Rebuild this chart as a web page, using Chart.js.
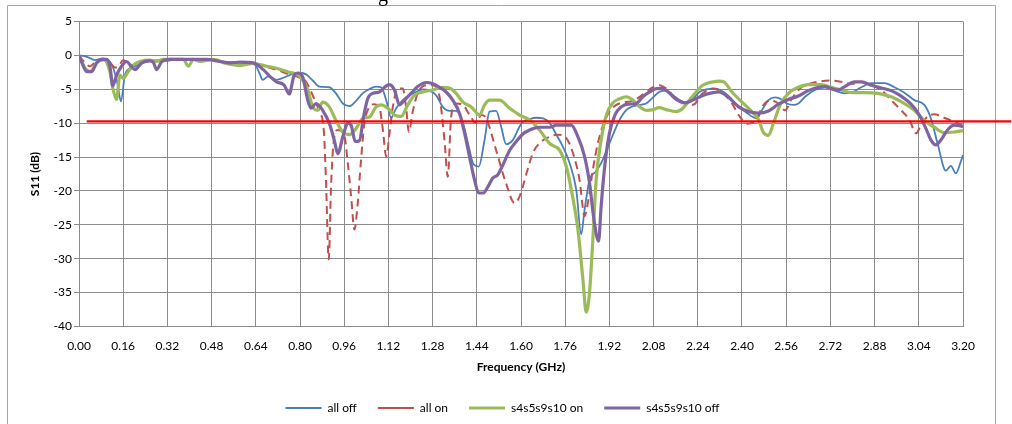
<!DOCTYPE html>
<html>
<head>
<meta charset="utf-8">
<script src="https://cdn.jsdelivr.net/npm/chart.js@4.4.1/dist/chart.umd.min.js"></script>
<style>
  html, body { margin: 0; padding: 0; background: #fff; }
  #wrap { position: relative; width: 1012px; height: 424px; overflow: hidden; }
  #cut { position: absolute; left: 378px; top: -17px; font: 20px "Liberation Serif"; color: #000; }
</style>
</head>
<body>
<div id="wrap">
  <canvas id="s11" width="1012" height="424"></canvas>
  <div id="cut">g</div>
</div>
<script>
const xTicks = [0.00, 0.16, 0.32, 0.48, 0.64, 0.80, 0.96, 1.12, 1.28, 1.44, 1.60,
  1.76, 1.92, 2.08, 2.24, 2.40, 2.56, 2.72, 2.88, 3.04, 3.20];
const yTicks = [5, 0, -5, -10, -15, -20, -25, -30, -35, -40];

// all off
const allOffFreq = [0, 0.022, 0.04, 0.058, 0.082, 0.106, 0.124, 0.139, 0.152, 0.166, 0.185, 0.215, 0.245,
  0.293, 0.34, 0.40, 0.46, 0.534, 0.607, 0.637, 0.653, 0.665, 0.685, 0.715, 0.74, 0.776, 0.80, 0.822,
  0.846, 0.87, 0.906, 0.93, 0.955, 0.979, 1.003, 1.027, 1.05, 1.075, 1.094, 1.112, 1.13, 1.148, 1.172,
  1.196, 1.22, 1.245, 1.269, 1.293, 1.317, 1.341, 1.365, 1.39, 1.414, 1.426, 1.447, 1.468, 1.486, 1.51,
  1.528, 1.546, 1.57, 1.595, 1.607, 1.631, 1.655, 1.68, 1.704, 1.728, 1.752, 1.776, 1.8, 1.818, 1.83,
  1.848, 1.872, 1.89, 1.91, 1.933, 1.957, 1.98, 2.005, 2.03, 2.053, 2.078, 2.1, 2.126, 2.15, 2.174,
  2.198, 2.222, 2.246, 2.27, 2.304, 2.34, 2.376, 2.412, 2.454, 2.472, 2.496, 2.52, 2.544, 2.562, 2.586,
  2.604, 2.628, 2.664, 2.7, 2.736, 2.772, 2.802, 2.832, 2.868, 2.916, 2.952, 2.988, 3.024, 3.06, 3.084,
  3.108, 3.138, 3.156, 3.174, 3.192, 3.2];
const allOffDb = [0, -0.15, -0.4, -0.7, -0.5, -0.7, -1.9, -4.1, -6.8, -2.9, -1.9, -1.4, -0.9,
  -0.7, -0.6, -0.6, -0.6, -1.0, -1.1, -1.4, -2.6, -3.6, -3.1, -3.6, -3.3, -2.7, -2.6, -2.8,
  -3.7, -4.6, -4.7, -5.6, -7.1, -7.5, -6.7, -5.6, -5.0, -4.6, -4.7, -6.6, -9.2, -7.8, -6.6,
  -5.9, -5.4, -5.0, -5.2, -5.9, -7.6, -8.2, -8.2, -10, -14, -15.9, -16.4, -12.5, -8.3, -8.2,
  -10.5, -13.1, -12.5, -10.5, -9.8, -9.4, -9.2, -9.3, -10, -11.7, -13.5, -15.9, -19.8, -26.4, -22.8,
  -18.4, -17.1, -15.9, -14, -11.7, -9.5, -8.1, -7.5, -7.3, -7.1, -6.2, -5.4, -5.2, -5.9, -6.6,
  -7.0, -6.4, -5.4, -5.0, -4.9, -5.6, -7.1, -8.3, -9.3, -8.1, -6.6, -6.2, -6.5, -7.1, -7.3,
  -7.1, -6.1, -5.1, -4.7, -5.2, -5.6, -5.4, -4.7, -4.1, -4.1, -4.7, -5.5, -6.6, -7.3, -9.3,
  -13, -17, -16.3, -17.4, -15.7, -14.7];

// all on
const allOnFreq = [0, 0.02, 0.04, 0.06, 0.09, 0.11, 0.13, 0.145, 0.16, 0.18, 0.2, 0.22, 0.26, 0.3, 0.36,
  0.42, 0.48, 0.54, 0.6, 0.64, 0.68, 0.72, 0.76, 0.80, 0.822, 0.846, 0.87, 0.886, 0.894, 0.904, 0.912,
  0.92, 0.936, 0.96, 0.973, 0.985, 0.997, 1.009, 1.02, 1.033, 1.045, 1.07, 1.087, 1.1, 1.112, 1.124,
  1.136, 1.154, 1.172, 1.184, 1.194, 1.208, 1.226, 1.257, 1.281, 1.305, 1.323, 1.335, 1.347, 1.365,
  1.39, 1.414, 1.438, 1.456, 1.474, 1.51, 1.546, 1.577, 1.595, 1.62, 1.643, 1.674, 1.704, 1.733, 1.764,
  1.788, 1.812, 1.83, 1.842, 1.86, 1.878, 1.897, 1.92, 1.945, 1.975, 2.005, 2.03, 2.053, 2.078, 2.1,
  2.126, 2.15, 2.186, 2.222, 2.258, 2.295, 2.34, 2.364, 2.388, 2.418, 2.448, 2.478, 2.502, 2.532,
  2.556, 2.58, 2.616, 2.652, 2.688, 2.724, 2.76, 2.796, 2.832, 2.868, 2.904, 2.94, 2.976, 3.006, 3.03,
  3.048, 3.072, 3.096, 3.132, 3.168, 3.2];
const allOnDb = [0, -1.0, -1.6, -1.0, -0.7, -1.0, -1.8, -1.5, -0.7, -1.4, -2.0, -1.2, -0.8, -0.8, -0.6,
  -0.6, -0.7, -1.0, -1.2, -1.4, -1.7, -2.2, -2.8, -3.3, -3.9, -5.9, -8.3, -11, -18.4, -30.1, -19.8,
  -13.5, -11, -11.7, -15.9, -20.8, -25.7, -21.8, -15.9, -10, -8.1, -7.2, -7.6, -11, -14.9, -11.5,
  -7.6, -4.9, -4.9, -7.6, -11.3, -8.3, -5.6, -4.4, -4.4, -6.1, -12.5, -17.9, -9.1, -7.1,
  -7.3, -8.8, -10, -8.8, -9.3, -14, -18.9, -21.8, -20.8, -17.4, -14.4, -12.7, -12, -11.7, -12.2,
  -14.4, -18.4, -23.7, -21.8, -16.9, -13, -10.3, -8.3, -7.3, -6.9, -6.7, -6.1, -5.4, -4.7, -4.4,
  -4.9, -5.9, -6.9, -7.3, -5.6, -4.9, -5.9, -7.1, -8.8, -10.1, -9.6, -7.3, -6.6, -7.1,
  -8.1, -6.4, -4.7, -4.1, -3.8, -3.7, -3.9, -4.2, -3.9, -4.4, -5.1, -6.6, -8.1, -9.5, -11.5,
  -10.3, -9.0, -8.7, -9.2, -9.8, -10.4];

// s4s5s9s10 on
const switchOnFreq = [0, 0.022, 0.04, 0.064, 0.088, 0.112, 0.124, 0.136, 0.148, 0.16, 0.178, 0.197, 0.22,
  0.257, 0.28, 0.305, 0.341, 0.378, 0.396, 0.414, 0.438, 0.486, 0.534, 0.583, 0.631, 0.68, 0.715, 0.761,
  0.798, 0.828, 0.846, 0.864, 0.882, 0.906, 0.93, 0.955, 0.979, 1.003, 1.027, 1.051, 1.075, 1.094,
  1.118, 1.142, 1.166, 1.19, 1.214, 1.245, 1.281, 1.317, 1.341, 1.365, 1.39, 1.42, 1.45, 1.468, 1.486,
  1.522, 1.559, 1.595, 1.631, 1.667, 1.704, 1.74, 1.764, 1.782, 1.806, 1.824, 1.836, 1.848, 1.86,
  1.872, 1.89, 1.909, 1.933, 1.957, 1.981, 2.005, 2.03, 2.053, 2.078, 2.1, 2.126, 2.162, 2.186, 2.21,
  2.234, 2.258, 2.295, 2.319, 2.334, 2.364, 2.4, 2.436, 2.46, 2.478, 2.496, 2.514, 2.538, 2.568, 2.604,
  2.64, 2.688, 2.724, 2.76, 2.796, 2.844, 2.892, 2.94, 2.988, 3.024, 3.06, 3.096, 3.132, 3.168, 3.2];
const switchOnDb = [0, -1.9, -2.4, -1.1, -0.5, -2.4, -5.1, -6.5, -2.9, -3.4, -2.4, -1.4, -0.9,
  -0.7, -0.9, -0.6, -0.6, -0.6, -1.6, -0.6, -0.9, -0.6, -1.2, -1.5, -1.2, -1.6, -1.9, -2.5,
  -3.0, -5.1, -7.6, -8.1, -6.9, -7.6, -9.6, -11.3, -11.7, -10.8, -9.3, -9.1, -7.6, -7.3,
  -7.8, -8.8, -9.0, -7.3, -5.9, -5.4, -5.1, -4.7, -4.8, -5.6, -6.9, -7.6, -8.8, -7.3, -6.6,
  -6.6, -7.8, -8.8, -9.5, -11, -13, -14, -16.4, -19.8, -25.7, -33, -37.9, -35, -27.2,
  -18.4, -12.5, -8.8, -7.0, -6.4, -6.1, -6.6, -7.6, -8.1, -8.0, -7.7, -8.0, -8.3, -7.8, -6.6,
  -5.4, -4.4, -3.9, -3.8, -3.9, -5.4, -6.9, -8.3, -9.5, -11.4, -11.8, -10, -7.3, -5.6, -4.7,
  -4.3, -4.3, -4.7, -5.1, -5.5, -5.5, -5.6, -6.1, -7.1, -8.1, -9.6, -10.6, -11.4, -11.3, -11.1];

// s4s5s9s10 off
const switchOffFreq = [0, 0.016, 0.028, 0.046, 0.064, 0.082, 0.1, 0.112, 0.122, 0.136, 0.154, 0.172, 0.185,
  0.203, 0.227, 0.257, 0.269, 0.281, 0.3, 0.33, 0.39, 0.462, 0.51, 0.546, 0.583, 0.631, 0.667, 0.691,
  0.715, 0.743, 0.761, 0.779, 0.792, 0.81, 0.828, 0.84, 0.858, 0.882, 0.906, 0.924, 0.937, 0.955, 0.973,
  0.985, 1.0, 1.015, 1.03, 1.045, 1.063, 1.087, 1.106, 1.124, 1.142, 1.16, 1.178, 1.202, 1.226, 1.257,
  1.281, 1.305, 1.329, 1.353, 1.378, 1.396, 1.414, 1.432, 1.447, 1.464, 1.48, 1.498, 1.516, 1.534,
  1.559, 1.583, 1.607, 1.631, 1.667, 1.704, 1.728, 1.752, 1.782, 1.806, 1.83, 1.848, 1.864, 1.881,
  1.89, 1.903, 1.92, 1.94, 1.963, 1.987, 2.017, 2.041, 2.066, 2.09, 2.114, 2.138, 2.162, 2.192, 2.222,
  2.258, 2.295, 2.316, 2.352, 2.388, 2.424, 2.46, 2.496, 2.532, 2.568, 2.604, 2.64, 2.676, 2.7, 2.724,
  2.748, 2.772, 2.808, 2.832, 2.868, 2.904, 2.94, 2.976, 3.012, 3.042, 3.066, 3.084, 3.102, 3.12,
  3.144, 3.168, 3.192, 3.2];
const switchOffDb = [0, -1.6, -2.4, -2.4, -1.1, -0.6, -0.6, -1.6, -4.5, -2.9, -1.6, -0.9, -1.4,
  -2.1, -1.1, -0.8, -1.0, -2.1, -0.9, -0.6, -0.6, -0.6, -0.9, -1.1, -1.0, -1.1, -2.1, -3.1,
  -3.9, -4.4, -5.7, -2.9, -2.6, -3.2, -6.6, -7.8, -7.1, -8.1, -10, -12.5, -14.5, -12, -10,
  -10.3, -12.7, -12.6, -9.1, -6.4, -5.6, -5.4, -4.7, -4.3, -5.1, -7.3, -6.6, -5.6, -4.6, -4.0,
  -4.2, -4.7, -5.4, -6.6, -8.6, -11.5, -15, -18.4, -20.3, -20.3, -19.4, -18.1, -17.6, -16.2,
  -14, -12.7, -11.6, -11, -10.6, -10.6, -10.3, -10.3, -10.3, -12, -14.9, -18.8, -24.2, -27.4,
  -22.3, -16.4, -11.5, -8.8, -7.6, -7.2, -7.1, -6.1, -5.4, -4.9, -4.9, -5.6, -6.5, -7.0, -6.6,
  -5.9, -5.5, -5.4, -6.2, -7.6, -8.3, -8.5, -8.2, -7.2, -6.5, -6.0, -5.2, -4.7, -4.6, -4.9,
  -5.1, -4.6, -3.9, -3.9, -4.4, -4.8, -5.2, -6.0, -7.2, -8.8, -10.8, -12.5, -13.2, -12.5,
  -11, -10.3, -10.4, -10.6];

// -10 dB reference line
const refFreq = [0.028, 3.375];
const refDb = [-9.75, -9.75];

const toPoints = (xs, ys) => xs.map((x, i) => ({ x: x, y: ys[i] }));

const FONT = 'Lato';
const GRID = '#8c8c8c';

const framePlugin = {
  id: 'frame',
  afterLayout(chart) {
    // Excel centres the legend a little to the right of the canvas middle
    if (chart.legend) {
      chart.legend.left += 17;
      chart.legend.right += 17;
    }
  },
  beforeDraw(chart) {
    const c = chart.ctx;
    c.save();
    c.fillStyle = '#fff';
    c.fillRect(0, 0, chart.width, chart.height);
    c.strokeStyle = '#a6a6a6';
    c.lineWidth = 1;
    c.beginPath();
    c.moveTo(7.5, 424);
    c.lineTo(7.5, 5.5);
    c.lineTo(995.5, 5.5);
    c.lineTo(995.5, 424);
    c.stroke();
    c.restore();
  }
};

const line = (label, xs, ys, color, width, order, dash) => ({
  label: label,
  data: toPoints(xs, ys),
  borderColor: color,
  backgroundColor: color,
  borderWidth: width,
  borderDash: dash || [],
  pointRadius: 0,
  cubicInterpolationMode: 'monotone',
  fill: false,
  order: order
});

new Chart(document.getElementById('s11'), {
  type: 'line',
  data: {
    datasets: [
      line('all off', allOffFreq, allOffDb, '#4a7ebb', 1.8, 4),
      line('all on', allOnFreq, allOnDb, '#c0504d', 2, 3, [8, 5]),
      line('s4s5s9s10 on', switchOnFreq, switchOnDb, '#9bbb59', 3.2, 2),
      line('s4s5s9s10 off', switchOffFreq, switchOffDb, '#8064a2', 3.2, 1),
      Object.assign(line('ref', refFreq, refDb, '#ff0000', 2.2, 0), { clip: false, tension: 0 })
    ]
  },
  options: {
    responsive: false,
    animation: false,
    layout: { padding: { left: 8, top: 21.5, right: 49, bottom: 0 } },
    plugins: {
      tooltip: { enabled: false },
      legend: {
        position: 'bottom',
        labels: {
          usePointStyle: true,
          pointStyle: 'line',
          pointStyleWidth: 36,
          padding: 21,
          color: '#000',
          font: { family: FONT, size: 12 },
          filter: item => item.datasetIndex < 4,
          sort: (a, b) => a.datasetIndex - b.datasetIndex
        }
      }
    },
    scales: {
      x: {
        type: 'linear',
        min: 0,
        max: 3.2,
        afterBuildTicks: s => { s.ticks = xTicks.map(v => ({ value: v })); },
        afterFit: s => { s.height = 54.5; },
        ticks: {
          autoSkip: false,
          maxRotation: 0,
          padding: 12,
          color: '#000',
          font: { family: FONT, size: 12 },
          callback: v => Number(v).toFixed(2)
        },
        grid: { color: GRID, drawTicks: false },
        border: { color: GRID },
        title: {
          display: true,
          text: 'Frequency (GHz)',
          color: '#000',
          font: { family: FONT, size: 12, weight: 'bold' },
          padding: { top: 0, bottom: 7 }
        }
      },
      y: {
        min: -40,
        max: 5,
        afterBuildTicks: s => { s.ticks = yTicks.map(v => ({ value: v })); },
        afterFit: s => { s.width = 71; },
        ticks: {
          padding: 2,
          color: '#000',
          font: { family: FONT, size: 12 }
        },
        grid: { color: GRID, tickLength: 5 },
        border: { color: GRID },
        title: {
          display: true,
          text: 'S11 (dB)',
          color: '#000',
          font: { family: FONT, size: 12, weight: 'bold' },
          padding: { top: 20, bottom: 0 }
        }
      }
    }
  },
  plugins: [framePlugin]
});
</script>
</body>
</html>
